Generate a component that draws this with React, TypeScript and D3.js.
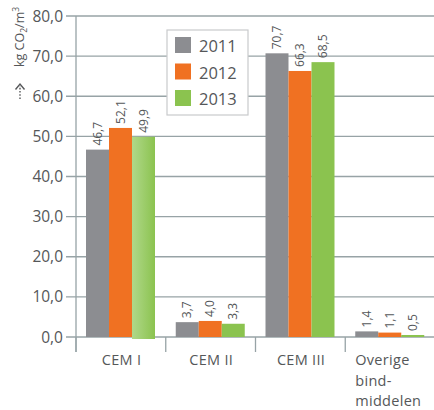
import * as d3 from 'd3'

const categories = ['CEM I', 'CEM II', 'CEM III', 'Overige']
const categoryLines = [['CEM I'], ['CEM II'], ['CEM III'], ['Overige', 'bind-', 'middelen']]
const years = ['2011', '2012', '2013']
const values2011 = [46.7, 3.7, 70.7, 1.4]
const values2012 = [52.1, 4.0, 66.3, 1.1]
const values2013 = [49.9, 3.3, 68.5, 0.5]
const yTicks = [0, 10, 20, 30, 40, 50, 60, 70, 80]

const series = [values2011, values2012, values2013]
const colors = ['#8c8d91', '#f07122', '#8bc34f']
const font = '"Open Sans", "Noto Sans", sans-serif'
const textColor = '#555759'
const gridColor = '#97a3a6'

const fmt = (v: number) => v.toFixed(1).replace('.', ',')

export default function App() {
  const width = 434
  const height = 410
  const axisX = 76

  const y = d3.scaleLinear().domain([0, 80]).range([337, 16])
  const x0 = d3.scaleBand().domain(categories).range([axisX, 435]).paddingInner(0).paddingOuter(0)
  const x1 = d3.scaleBand().domain(years).range([10, 79])

  return (
    <svg width={width} height={height} style={{ position: 'absolute', left: 0, top: 0, fontFamily: font }}>
      <defs>
        <linearGradient id="fadeGreen" x1="0%" x2="100%" y1="0%" y2="0%">
          <stop offset="0%" stopColor="#b0d88a" />
          <stop offset="100%" stopColor="#8bc34f" />
        </linearGradient>
      </defs>

      {/* grid + y labels */}
      {yTicks.map(t => (
        <g key={t}>
          <line x1={66} x2={width} y1={y(t)} y2={y(t)} stroke={gridColor} strokeWidth={1.3} />
          <text x={63} y={y(t) + 5.5} textAnchor="end" fontSize={15.5} fill={textColor}>{fmt(t)}</text>
        </g>
      ))}

      {/* axis line + category ticks */}
      <line x1={axisX} x2={axisX} y1={y(80)} y2={352} stroke={gridColor} strokeWidth={1.3} />
      {categories.map(c => (
        <line key={c} x1={x0(c)!} x2={x0(c)!} y1={y(0)} y2={352} stroke={gridColor} strokeWidth={1.3} />
      ))}

      {/* bars */}
      {categories.map((c, ci) =>
        years.map((yr, si) => {
          const v = series[si][ci]
          const bx = x0(c)! + x1(yr)!
          const fill = ci === 0 && si === 2 ? 'url(#fadeGreen)' : colors[si]
          const extra = ci === 0 && si === 2 ? 2 : 0
          return (
            <g key={c + yr}>
              <rect x={bx} y={y(v)} width={x1.bandwidth()} height={y(0) - y(v) + extra} fill={fill} />
              <text
                transform={`translate(${bx + x1.bandwidth() / 2 + 4},${y(v) - 4}) rotate(-90)`}
                fontSize={12}
                fill={textColor}
              >
                {fmt(v)}
              </text>
            </g>
          )
        })
      )}

      {/* category labels */}
      {categories.map((c, ci) => {
        const lines = categoryLines[ci]
        const multi = lines.length > 1
        const tx = multi ? x0(c)! + x1(years[0])! : x0(c)! + x1(years[1])! + x1.bandwidth() / 2 + 1
        return (
          <text key={c} x={tx} y={365} textAnchor={multi ? 'start' : 'middle'} fontSize={14.5} fill={textColor} letterSpacing={0.3}>
            {lines.map((l, li) => (
              <tspan key={l} x={tx} dy={li === 0 ? 0 : 20.5}>{l}</tspan>
            ))}
          </text>
        )
      })}

      {/* y axis title */}
      <g transform="translate(24,67) rotate(-90)">
        <text x={0} y={0} fontSize={12.5} fill={textColor}>
          kg CO<tspan fontSize={8.5} dy={3}>2</tspan>
          <tspan dy={-3}>/m</tspan>
          <tspan fontSize={8.5} dy={-5}>3</tspan>
        </text>
      </g>
      <g stroke={textColor} strokeWidth={1.4} fill="none">
        <line x1={20} x2={20} y1={99} y2={86} strokeDasharray="1.6,1.6" />
        <path d="M15.5,89.5 L20,84 L24.5,89.5" />
      </g>

      {/* legend */}
      <rect x={167} y={30} width={81} height={85} fill="#fff" stroke="#c9cacc" strokeWidth={1.2} />
      {years.map((yr, i) => (
        <g key={yr} transform={`translate(175,${37 + i * 26.5})`}>
          <rect width={16} height={16} fill={colors[i]} />
          <text x={24} y={15} fontSize={16.5} fill={textColor}>{yr}</text>
        </g>
      ))}
    </svg>
  )
}
